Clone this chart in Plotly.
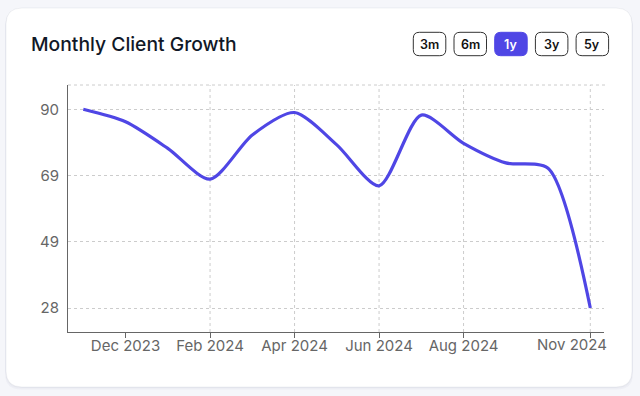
import plotly.graph_objects as go
import numpy as np

# ---- data ----
months = ["2023-11", "2023-12", "2024-01", "2024-02", "2024-03", "2024-04", "2024-05",
          "2024-06", "2024-07", "2024-08", "2024-09", "2024-10", "2024-11"]
clients = [90, 86.1, 77.8, 68.2, 82, 89, 78.9, 66.1, 88.2, 79.4, 73.3, 71.6, 28]
tick_months = ["2023-12", "2024-02", "2024-04", "2024-06", "2024-08", "2024-11"]
tick_labels = ["Dec 2023", "Feb 2024", "Apr 2024", "Jun 2024", "Aug 2024", "Nov 2024"]
range_buttons = ["3m", "6m", "1y", "3y", "5y"]
active_button = "1y"

W, H = 640, 396
L, R, T, B = 68, 36, 85, 64
PW, PH = W - L - R, H - T - B

def px_x(x):
    return (x - L) / PW

def px_y(y):
    return (H - B - y) / PH

def rrect(x0, y0, x1, y1, r):
    rx, ry = r / PW, r / PH
    a, b = px_x(x0), px_x(x1)
    top, bot = px_y(y0), px_y(y1)
    return (f"M{a+rx},{top} L{b-rx},{top} Q{b},{top} {b},{top-ry} "
            f"L{b},{bot+ry} Q{b},{bot} {b-rx},{bot} L{a+rx},{bot} "
            f"Q{a},{bot} {a},{bot+ry} L{a},{top-ry} Q{a},{top} {a+rx},{top} Z")

ymin, ymax = min(clients), max(clients)
ytickvals = list(np.linspace(ymin, ymax, 4))
yticktext = [str(int(round(v))) for v in ytickvals]

# last tick label is kept inside the chart edge (drawn as annotation)
axis_ticktext = tick_labels[:-1] + [""]

fig = go.Figure()
fig.add_trace(go.Scatter(
    x=months, y=clients, mode="lines",
    line=dict(color="#4f46e5", width=3.2, shape="spline", smoothing=0.75),
    hoverinfo="skip", showlegend=False, cliponaxis=False,
))

shapes = []
# card shadow
for i, a in enumerate([0.025, 0.025, 0.03]):
    shapes.append(dict(type="path", xref="paper", yref="paper", layer="below",
                       path=rrect(6 - i * 0.5, 8 + i, 632 + i * 0.5, 387 + i * 1.2, 16),
                       fillcolor=f"rgba(30,40,80,{a})", line=dict(width=0)))
# card
shapes.append(dict(type="path", xref="paper", yref="paper", layer="below",
                   path=rrect(6, 8, 632, 387, 16), fillcolor="#ffffff",
                   line=dict(color="rgba(20,30,60,0.06)", width=1)))
# top grid line
shapes.append(dict(type="line", xref="paper", yref="paper", layer="below",
                   x0=0, x1=px_x(605), y0=1, y1=1,
                   line=dict(color="#cccccc", width=1, dash="3px,3px")))
# vertical grid lines
for m in tick_months[1:]:
    shapes.append(dict(type="line", xref="x", yref="paper", layer="below",
                       x0=m, x1=m, y0=0, y1=1,
                       line=dict(color="#cccccc", width=1, dash="3px,3px")))

annotations = [dict(text="Monthly Client Growth", xref="paper", yref="paper",
                    x=px_x(29), y=px_y(44), xanchor="left", yanchor="middle",
                    showarrow=False,
                    font=dict(family="Inter", size=19.3, color="#111827", weight=500))]

annotations.append(dict(text=tick_labels[-1], xref="paper", yref="paper",
                        x=px_x(609), y=px_y(344.5), xanchor="right", yanchor="middle",
                        showarrow=False,
                        font=dict(family="Inter", size=15, color="#666666")))

bx0, bw, bgap, by0, by1 = 413.3, 32.5, 8.2, 32.3, 55.7
for i, lab in enumerate(range_buttons):
    x0 = bx0 + i * (bw + bgap)
    act = lab == active_button
    shapes.append(dict(type="path", xref="paper", yref="paper", layer="below",
                       path=rrect(x0, by0, x0 + bw, by1, 6),
                       fillcolor="#4f46e5" if act else "#ffffff",
                       line=dict(color="#4f46e5" if act else "#333333", width=1)))
    annotations.append(dict(text=lab, xref="paper", yref="paper",
                            x=px_x(x0 + bw / 2), y=px_y((by0 + by1) / 2),
                            xanchor="center", yanchor="middle", showarrow=False,
                            font=dict(family="Inter", size=12.5,
                                      color="#ffffff" if act else "#111111", weight=600)))

fig.update_layout(
    width=W, height=H,
    margin=dict(l=L, r=R, t=T, b=B),
    paper_bgcolor="#f5f6fa", plot_bgcolor="rgba(0,0,0,0)",
    font=dict(family="Inter", size=15, color="#666666"),
    shapes=shapes, annotations=annotations,
    xaxis=dict(type="category", range=[-0.362, 12.324], tickvals=tick_months,
               ticktext=axis_ticktext, showgrid=False, showline=True,
               linecolor="#666666", linewidth=1, ticks="outside", ticklen=5,
               tickcolor="#666666", zeroline=False, fixedrange=True,
               ticklabelstandoff=-5,
               tickfont=dict(family="Inter", size=15, color="#666666")),
    yaxis=dict(range=[20.51, 97.59], tickvals=ytickvals, ticktext=yticktext,
               showgrid=True, gridcolor="#cccccc", griddash="3px,3px", gridwidth=1,
               showline=True, linecolor="#666666", linewidth=1, ticks="",
               ticklabelstandoff=5, zeroline=False, fixedrange=True,
               tickfont=dict(family="Inter", size=15, color="#666666")),
)

fig.write_html("out.html", config=dict(displayModeBar=False),
               post_script="document.body.style.margin='0';document.body.style.background='#f5f6fa';")
